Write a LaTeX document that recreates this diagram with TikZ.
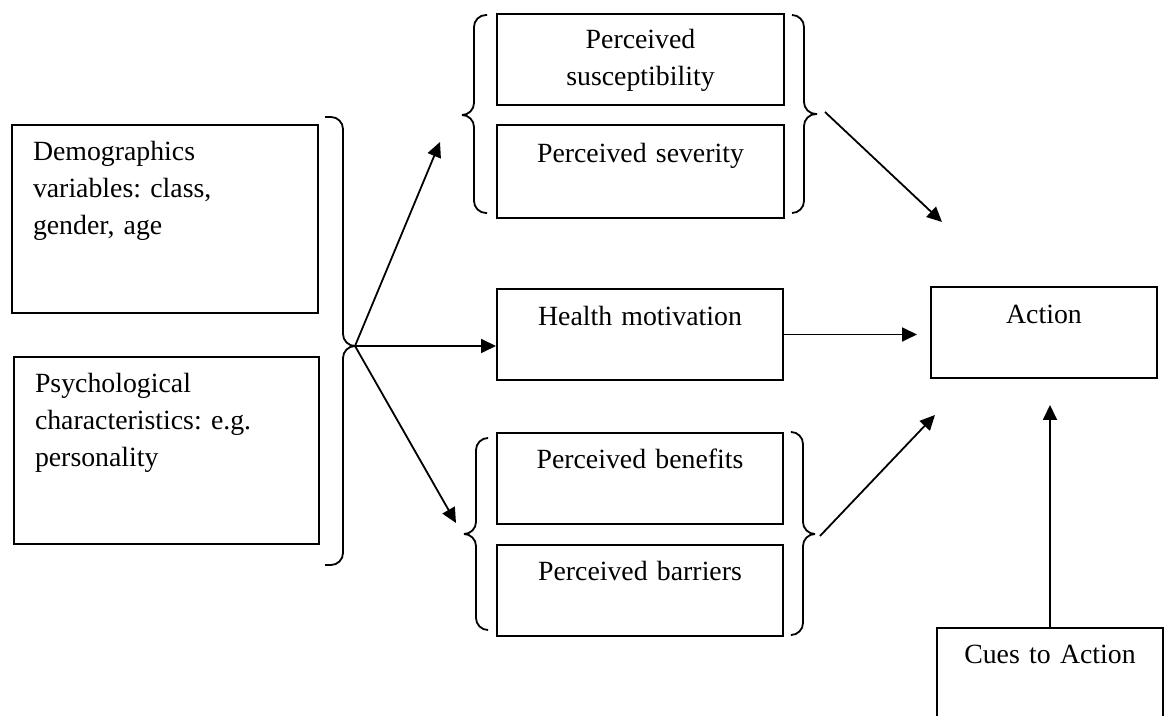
\documentclass[tikz,border=0pt]{standalone}
\usepackage{fontspec}
\setmainfont{Liberation Serif}
\usetikzlibrary{arrows.meta}
\frenchspacing

\begin{document}
\begin{tikzpicture}[x=0.5pt, y=-0.5pt,
  box/.style={draw, line width=1pt, anchor=north west, inner xsep=0pt,
              inner ysep=0pt, align=center,
              font=\fontsize{13.9pt}{18.5pt}\selectfont},
  lbox/.style={box, align=left, inner xsep=10.5pt},
  arr/.style={line width=0.9pt, -{Triangle[length=7.5pt, width=7pt]}},
  brace/.style={line width=0.9pt, rounded corners=6pt},
]
\useasboundingbox (0,0) rectangle (1164,716);

% modifying factors
\node[lbox, text width=132pt, text height=18pt, text depth=76pt] (demo) at (11,124)
  {Demographics\\variables: class,\\gender, age};
\node[lbox, text width=131.5pt, text height=18pt, text depth=75.5pt] (psych) at (13,356)
  {Psychological\\characteristics: e.g.\\personality};

% perceptions
\node[box, text width=143.5pt, text height=17.5pt, text depth=28pt] (sus) at (496,13)
  {Perceived\\susceptibility};
\node[box, text width=143.5pt, text height=19pt, text depth=27.5pt] (sev) at (496,124)
  {Perceived severity};
\node[box, text width=143pt, text height=18.5pt, text depth=27pt] (health) at (496,288)
  {Health motivation};
\node[box, text width=143pt, text height=18pt, text depth=27.5pt] (ben) at (496,432)
  {Perceived benefits};
\node[box, text width=143pt, text height=18pt, text depth=27.5pt] (bar) at (496,544)
  {Perceived barriers};

% outcome
\node[box, text width=113pt, text height=18.5pt, text depth=27pt] (action) at (930,286)
  {Action};
\node[box, text width=113pt, text height=18pt, text depth=60pt] (cues) at (936,627)
  {Cues to Action};

% braces
\foreach \xo/\xv/\xt/\ya/\yt/\yb in {325/343/355/117/346/565,
    487/474/462/15/115/213, 792/804/817/15/114/213,
    487/476/466/438/534/630, 792/803/815/432/534/635}
  \draw[brace] (\xo,\ya) -- (\xv,\ya) -- (\xv,\yt) -- (\xt,\yt)
               (\xo,\yb) -- (\xv,\yb) -- (\xv,\yt) -- (\xt,\yt);

\coordinate (lgtip) at (355,346);
\coordinate (upend) at (440,142);
\coordinate (downend) at (456,523);
\coordinate (topout) at (825,112);
\coordinate (topend) at (942,222);
\coordinate (botout) at (820,536);
\coordinate (botend) at (935,415);

\draw[arr] (lgtip) -- (upend);
\draw[arr] (lgtip) -- (lgtip -| health.west);
\draw[arr] (lgtip) -- (downend);
\draw[arr] (topout) -- (topend);
\draw[arr, shorten >=6.5pt] (health.east) -- (health.east -| action.west);
\draw[arr] (botout) -- (botend);
\draw[arr, shorten >=13pt] (cues.north) -- (cues.north |- action.south);
\end{tikzpicture}
\end{document}
